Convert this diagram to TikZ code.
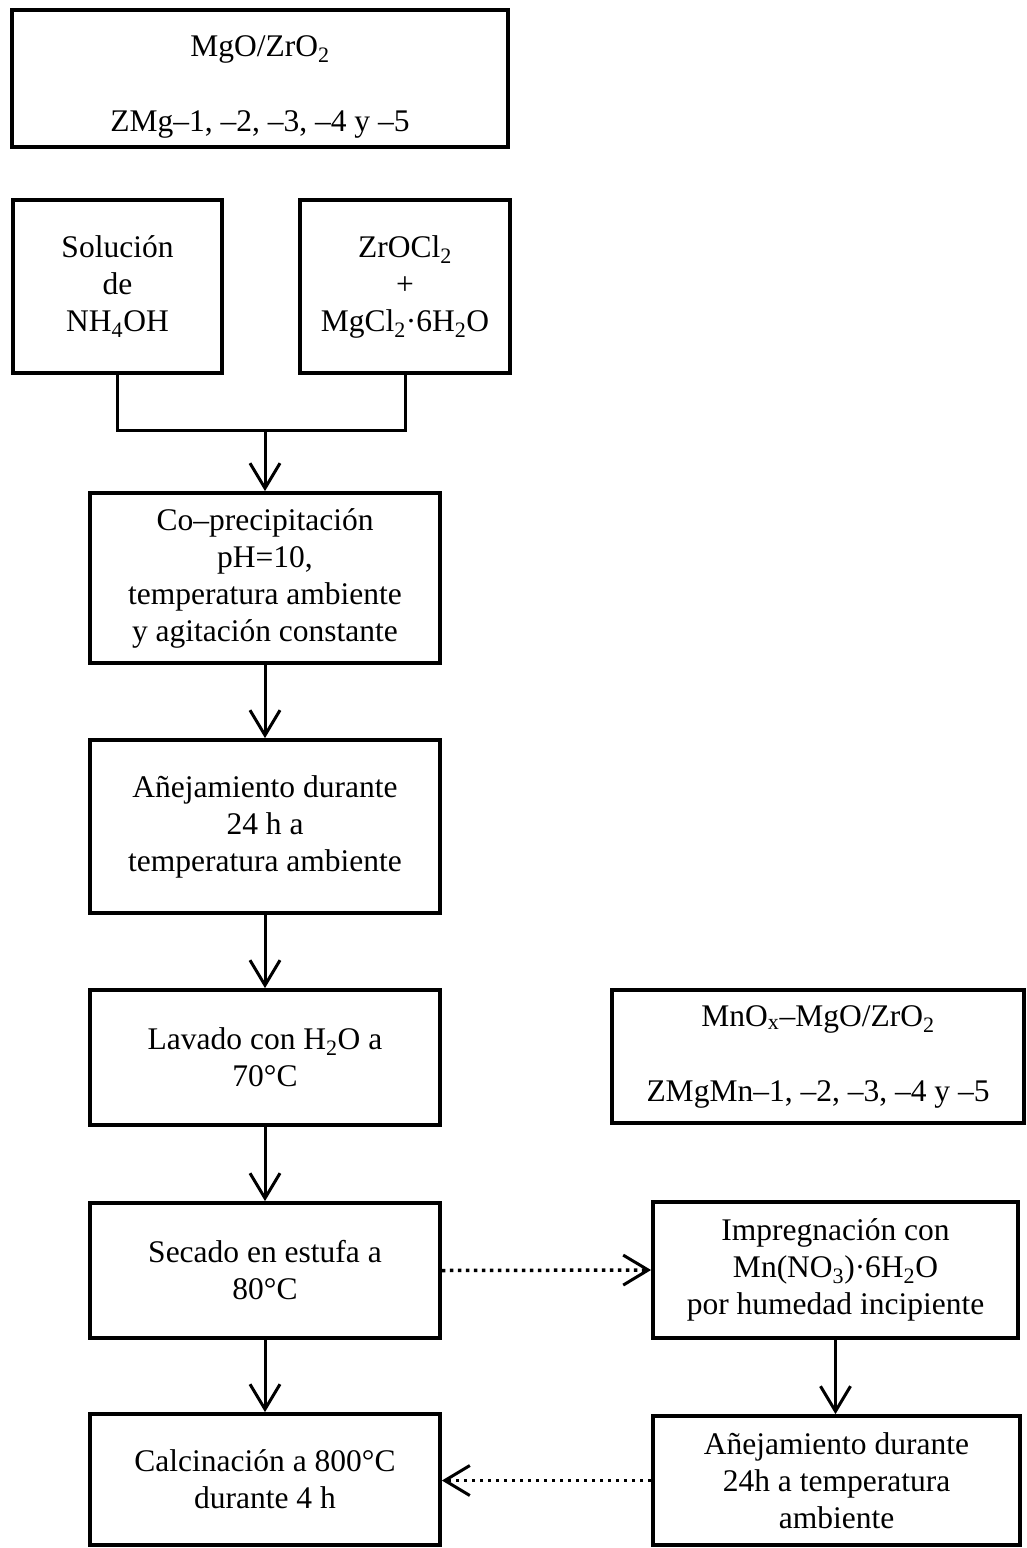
\documentclass[tikz,border=0pt]{standalone}
\usepackage{fontspec}
\setmainfont{Liberation Serif}
\usetikzlibrary{arrows.meta}
\begin{document}
\begin{tikzpicture}[x=1pt,y=-1pt,
  box/.style={draw,line width=3.8pt,rectangle,inner sep=0pt,align=center,
    font=\fontsize{31.5}{37}\selectfont},
  conn/.style={line width=3pt},
  arr/.style={line width=3pt,-{Straight Barb[length=25pt,width=30pt,line width=3pt]}},
  dotarr/.style={line width=3.5pt,dash pattern=on 3.5pt off 4.5pt,
    -{Straight Barb[length=25pt,width=30pt,line width=3pt]}}]
\useasboundingbox (0,0) rectangle (1027,1548);
\node[box,minimum width=496pt,minimum height=137pt] (top) at (260,78.5)
  {\rule{0pt}{38pt}MgO/ZrO\textsubscript{2}\\[38pt]ZMg–1, –2, –3, –4 y –5};
\node[box,minimum width=209pt,minimum height=173pt] (sol) at (117.5,286.5)
  {Solución\\de\\NH\textsubscript{4}OH};
\node[box,minimum width=210pt,minimum height=173pt] (zr) at (405,286.5)
  {ZrOCl\textsubscript{2}\\+\\MgCl\textsubscript{2}·6H\textsubscript{2}O};
\node[box,minimum width=350pt,minimum height=170pt] (co) at (265,578)
  {Co–precipitación\\pH=10,\\temperatura ambiente\\y agitación constante};
\node[box,minimum width=350pt,minimum height=173pt] (an) at (265,826.5)
  {Añejamiento durante\\24 h a\\temperatura ambiente};
\node[box,minimum width=350pt,minimum height=135pt] (lav) at (265,1057.5)
  {Lavado con H\textsubscript{2}O a\\70°C};
\node[box,minimum width=350pt,minimum height=135pt] (sec) at (265,1270.5)
  {Secado en estufa a\\80°C};
\node[box,minimum width=350pt,minimum height=131pt] (cal) at (265,1479.5)
  {Calcinación a 800°C\\durante 4 h};
\node[box,minimum width=412pt,minimum height=133pt] (mn) at (818,1056.5)
  {MnO\textsubscript{x}–MgO/ZrO\textsubscript{2}\\[38pt]ZMgMn–1, –2, –3, –4 y –5};
\node[box,minimum width=365pt,minimum height=136pt] (imp) at (835.5,1270)
  {Impregnación con\\Mn(NO\textsubscript{3})·6H\textsubscript{2}O\\por humedad incipiente};
\node[box,minimum width=367pt,minimum height=129pt] (an2) at (836.5,1480.5)
  {Añejamiento durante\\24h a temperatura\\ambiente};
\coordinate (m) at (265,430);
\draw[conn] (sol.south) |- (m) -| (zr.south);
\draw[arr] (m) -- (co.north);
\draw[arr] (co.south) -- (an.north);
\draw[arr] (an.south) -- (lav.north);
\draw[arr] (lav.south) -- (sec.north);
\draw[arr] (sec.south) -- (cal.north);
\draw[arr] (imp.south) -- (imp.south |- an2.north);
\draw[dotarr] (sec.east) -- (imp.west);
\draw[dotarr] (an2.west) -- (an2.west -| cal.east);
\end{tikzpicture}
\end{document}
